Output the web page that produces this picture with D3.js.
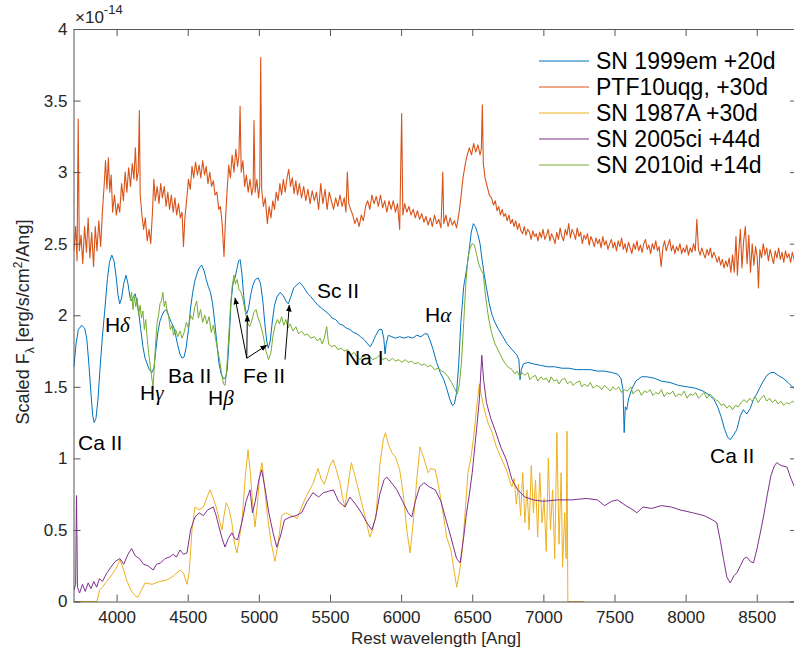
<!doctype html>
<html>
<head>
  <meta charset="UTF-8">
  <title>spectra</title>
  <style type="text/css">
    body { margin: 0; background: #fff; }
    text { font-family: "Liberation Sans", Arial, sans-serif; }
  </style>
  <script src="https://cdnjs.cloudflare.com/ajax/libs/d3/7.8.5/d3.min.js"></script>
</head>
<body>
<div id="chart"></div>
<script>

// [wavelength (Ang), scaled flux (1e-14)]
var sn1999em = [[3700,1.64],[3715,1.8],[3731,1.9],[3754,1.93],[3775,1.91],[3790,1.84],[3805,1.66],[3820,1.45],[3832,1.3],[3842,1.25],[3855,1.28],[3868,1.4],[3883,1.62],[3900,1.85],[3918,2.05],[3935,2.25],[3950,2.37],[3966,2.42],[3982,2.38],[3998,2.26],[4010,2.14],[4022,2.08],[4035,2.12],[4050,2.22],[4066,2.28],[4080,2.22],[4095,2.12],[4106,2.1],[4118,2.13],[4130,2.15],[4142,2.1],[4155,2.02],[4170,1.9],[4185,1.78],[4200,1.7],[4215,1.66],[4230,1.62],[4247,1.6],[4262,1.63],[4275,1.75],[4290,1.88],[4305,1.96],[4320,2.0],[4335,2.03],[4352,2.04],[4368,1.99],[4385,1.95],[4400,1.92],[4415,1.86],[4430,1.79],[4445,1.73],[4460,1.7],[4475,1.71],[4490,1.78],[4505,1.9],[4520,2.05],[4535,2.16],[4550,2.24],[4565,2.29],[4580,2.33],[4598,2.35],[4615,2.31],[4630,2.25],[4645,2.2],[4660,2.16],[4675,2.08],[4690,1.95],[4705,1.8],[4720,1.66],[4735,1.59],[4750,1.56],[4765,1.56],[4778,1.62],[4792,1.85],[4805,2.1],[4818,2.22],[4832,2.26],[4845,2.32],[4858,2.38],[4868,2.39],[4880,2.3],[4893,2.14],[4905,2.04],[4915,2.01],[4928,2.05],[4942,2.14],[4958,2.21],[4975,2.25],[4996,2.26],[5012,2.22],[5028,2.1],[5042,1.94],[5055,1.82],[5066,1.77],[5080,1.82],[5095,1.96],[5110,2.07],[5128,2.13],[5149,2.16],[5170,2.14],[5190,2.1],[5207,2.08],[5225,2.13],[5245,2.19],[5265,2.21],[5285,2.23],[5305,2.21],[5325,2.18],[5345,2.15],[5365,2.13],[5390,2.1],[5415,2.07],[5440,2.05],[5465,2.03],[5490,2.01],[5515,1.98],[5540,1.97],[5565,1.94],[5590,1.93],[5615,1.91],[5640,1.9],[5665,1.88],[5690,1.87],[5715,1.85],[5740,1.83],[5765,1.8],[5782,1.78],[5800,1.81],[5822,1.86],[5845,1.9],[5865,1.9],[5878,1.84],[5887,1.73],[5895,1.8],[5910,1.86],[5935,1.85],[5960,1.84],[5990,1.85],[6020,1.84],[6050,1.85],[6080,1.84],[6110,1.86],[6140,1.85],[6165,1.87],[6185,1.87],[6205,1.82],[6225,1.76],[6250,1.67],[6275,1.6],[6300,1.55],[6320,1.49],[6340,1.42],[6360,1.37],[6375,1.38],[6390,1.46],[6405,1.66],[6420,1.95],[6440,2.2],[6460,2.32],[6478,2.45],[6493,2.58],[6508,2.64],[6522,2.62],[6538,2.57],[6555,2.5],[6570,2.38],[6585,2.28],[6602,2.18],[6620,2.08],[6640,2.0],[6660,1.95],[6680,1.91],[6710,1.86],[6745,1.8],[6780,1.76],[6815,1.72],[6828,1.69],[6836,1.55],[6845,1.62],[6860,1.66],[6890,1.67],[6930,1.66],[6980,1.65],[7030,1.64],[7080,1.64],[7130,1.63],[7180,1.63],[7230,1.62],[7280,1.62],[7330,1.62],[7380,1.61],[7430,1.61],[7480,1.6],[7520,1.59],[7545,1.56],[7560,1.48],[7568,1.18],[7576,1.36],[7586,1.34],[7600,1.42],[7620,1.48],[7650,1.54],[7690,1.57],[7730,1.57],[7780,1.56],[7830,1.54],[7890,1.53],[7950,1.51],[8010,1.5],[8070,1.49],[8123,1.47],[8170,1.44],[8200,1.41],[8225,1.36],[8250,1.29],[8275,1.2],[8295,1.15],[8313,1.13],[8335,1.16],[8360,1.2],[8385,1.3],[8406,1.34],[8430,1.31],[8455,1.35],[8480,1.42],[8500,1.45],[8535,1.52],[8571,1.58],[8600,1.6],[8622,1.6],[8650,1.58],[8685,1.56],[8720,1.53],[8750,1.5],[8783,1.47]];

var ptf10uqg = [[3700,2.45],[3712,2.62],[3722,2.38],[3730,3.37],[3738,2.45],[3750,2.56],[3762,2.36],[3775,2.62],[3788,2.44],[3800,2.68],[3812,2.4],[3825,2.58],[3838,2.34],[3850,2.62],[3862,2.45],[3875,2.66],[3888,2.48],[3900,2.72],[3912,2.9],[3922,3.08],[3932,2.88],[3942,3.1],[3952,2.86],[3962,2.98],[3972,2.72],[3985,2.84],[3998,2.7],[4010,2.78],[4022,2.72],[4035,2.92],[4048,2.8],[4060,3.0],[4072,2.86],[4085,3.03],[4098,2.9],[4110,3.06],[4122,2.95],[4132,3.17],[4142,2.94],[4152,3.0],[4160,3.43],[4166,2.84],[4178,2.7],[4190,2.6],[4202,2.68],[4215,2.52],[4228,2.6],[4240,2.5],[4252,2.72],[4262,2.95],[4272,2.8],[4285,2.9],[4298,2.78],[4310,2.92],[4322,2.82],[4335,2.9],[4348,2.76],[4360,2.86],[4372,2.74],[4385,2.84],[4398,2.72],[4410,2.82],[4422,2.7],[4435,2.78],[4448,2.68],[4460,2.72],[4470,2.48],[4480,2.68],[4492,2.8],[4505,2.95],[4518,2.88],[4530,3.04],[4542,2.96],[4555,3.07],[4568,2.98],[4580,3.05],[4592,2.96],[4605,3.08],[4618,2.98],[4630,3.04],[4642,2.92],[4655,3.0],[4668,2.9],[4680,2.94],[4692,2.84],[4705,2.86],[4718,2.74],[4730,2.76],[4742,2.64],[4755,2.41],[4765,2.66],[4775,2.84],[4788,3.05],[4800,2.96],[4812,3.12],[4825,3.0],[4838,3.16],[4850,3.04],[4860,3.12],[4868,3.46],[4876,3.0],[4888,3.08],[4900,2.9],[4912,2.98],[4925,2.86],[4938,2.95],[4950,2.84],[4960,2.9],[4966,3.36],[4974,2.86],[4986,2.95],[4998,2.82],[5006,2.9],[5013,3.8],[5020,2.88],[5032,2.76],[5045,2.82],[5060,2.64],[5072,2.76],[5085,2.68],[5098,2.8],[5110,2.74],[5122,2.86],[5135,2.8],[5148,2.92],[5160,2.84],[5172,2.95],[5185,2.86],[5198,2.96],[5210,3.02],[5222,2.9],[5235,2.96],[5248,2.85],[5260,2.94],[5272,2.84],[5285,2.92],[5300,2.82],[5315,2.9],[5330,2.8],[5345,2.88],[5360,2.78],[5375,2.87],[5390,2.8],[5405,2.86],[5420,2.74],[5435,2.92],[5450,2.78],[5465,2.88],[5480,2.74],[5495,2.86],[5510,2.8],[5525,2.74],[5540,2.82],[5555,2.76],[5570,2.84],[5585,2.76],[5600,2.82],[5612,2.72],[5622,3.0],[5632,2.78],[5645,2.74],[5660,2.7],[5675,2.64],[5690,2.68],[5705,2.62],[5720,2.7],[5735,2.66],[5750,2.76],[5765,2.8],[5780,2.74],[5795,2.84],[5810,2.78],[5825,2.83],[5840,2.76],[5855,2.84],[5870,2.75],[5885,2.8],[5900,2.72],[5915,2.8],[5930,2.74],[5945,2.8],[5960,2.72],[5975,2.78],[5990,2.6],[6004,3.41],[6012,2.7],[6025,2.78],[6040,2.72],[6055,2.76],[6070,2.7],[6085,2.74],[6100,2.68],[6115,2.73],[6130,2.67],[6145,2.71],[6160,2.65],[6175,2.69],[6190,2.63],[6205,2.68],[6220,2.62],[6235,2.7],[6250,2.64],[6265,2.67],[6280,2.61],[6293,3.0],[6300,2.64],[6315,2.7],[6330,2.62],[6345,2.68],[6360,2.63],[6375,2.66],[6390,2.61],[6405,2.7],[6420,2.82],[6435,2.96],[6450,3.05],[6465,3.12],[6480,3.17],[6495,3.12],[6510,3.2],[6525,3.14],[6540,3.19],[6555,3.12],[6564,3.16],[6571,3.47],[6578,3.06],[6590,2.96],[6605,2.9],[6620,2.84],[6635,2.82],[6650,2.77],[6662,2.8],[6674,2.73],[6686,2.76],[6698,2.7],[6710,2.74],[6722,2.69],[6734,2.71],[6746,2.66],[6758,2.7],[6770,2.64],[6782,2.67],[6794,2.62],[6806,2.66],[6818,2.6],[6830,2.64],[6842,2.59],[6854,2.57],[6866,2.62],[6878,2.56],[6890,2.6],[6902,2.58],[6914,2.53],[6926,2.59],[6938,2.55],[6950,2.57],[6962,2.52],[6974,2.58],[6986,2.54],[6998,2.6],[7010,2.53],[7022,2.56],[7034,2.6],[7046,2.52],[7058,2.57],[7070,2.54],[7082,2.5],[7094,2.58],[7106,2.53],[7118,2.61],[7130,2.55],[7142,2.52],[7154,2.6],[7166,2.56],[7178,2.64],[7190,2.54],[7202,2.6],[7214,2.57],[7226,2.53],[7238,2.61],[7250,2.55],[7262,2.58],[7274,2.5],[7286,2.56],[7298,2.53],[7310,2.57],[7322,2.49],[7334,2.55],[7346,2.52],[7358,2.48],[7370,2.54],[7382,2.5],[7394,2.53],[7406,2.47],[7418,2.55],[7430,2.49],[7442,2.52],[7454,2.46],[7466,2.5],[7478,2.53],[7490,2.47],[7502,2.51],[7514,2.45],[7526,2.52],[7538,2.48],[7550,2.54],[7562,2.46],[7574,2.5],[7586,2.44],[7598,2.51],[7610,2.47],[7622,2.43],[7634,2.5],[7646,2.46],[7658,2.52],[7670,2.45],[7682,2.49],[7694,2.44],[7706,2.5],[7718,2.53],[7730,2.46],[7742,2.49],[7754,2.43],[7766,2.5],[7778,2.46],[7790,2.52],[7802,2.45],[7814,2.48],[7828,2.34],[7840,2.47],[7852,2.52],[7864,2.45],[7876,2.49],[7888,2.53],[7900,2.45],[7912,2.49],[7924,2.43],[7936,2.48],[7948,2.45],[7960,2.5],[7972,2.43],[7984,2.47],[7996,2.44],[8008,2.49],[8020,2.42],[8032,2.47],[8044,2.44],[8056,2.5],[8068,2.45],[8079,2.67],[8090,2.46],[8102,2.42],[8114,2.47],[8126,2.43],[8138,2.4],[8150,2.46],[8162,2.42],[8174,2.47],[8186,2.4],[8198,2.44],[8210,2.41],[8222,2.37],[8234,2.41],[8246,2.35],[8258,2.39],[8270,2.33],[8282,2.38],[8294,2.34],[8306,2.4],[8318,2.3],[8330,2.42],[8342,2.3],[8354,2.55],[8364,2.28],[8374,2.45],[8385,2.6],[8396,2.33],[8408,2.52],[8420,2.62],[8432,2.36],[8444,2.56],[8456,2.3],[8468,2.5],[8480,2.35],[8492,2.48],[8504,2.4],[8512,2.19],[8522,2.46],[8534,2.4],[8546,2.5],[8558,2.42],[8570,2.47],[8582,2.38],[8594,2.46],[8606,2.41],[8618,2.36],[8630,2.45],[8642,2.4],[8654,2.47],[8666,2.39],[8678,2.44],[8690,2.37],[8702,2.45],[8714,2.4],[8726,2.43],[8738,2.37],[8750,2.44],[8762,2.39],[8783,2.41]];

var sn1987a = [[3700,0.0],[3862,0.0],[3880,0.08],[3900,0.1],[3930,0.14],[3954,0.17],[3990,0.22],[4024,0.29],[4050,0.22],[4070,0.15],[4100,0.08],[4130,0.04],[4150,0.03],[4175,0.08],[4200,0.13],[4250,0.12],[4300,0.14],[4355,0.15],[4400,0.18],[4446,0.22],[4470,0.2],[4495,0.12],[4510,0.2],[4530,0.5],[4551,0.66],[4580,0.64],[4610,0.66],[4640,0.74],[4657,0.78],[4680,0.72],[4700,0.66],[4720,0.58],[4741,0.5],[4755,0.6],[4770,0.69],[4790,0.65],[4810,0.55],[4830,0.4],[4846,0.34],[4865,0.45],[4885,0.6],[4905,0.88],[4924,1.06],[4940,0.9],[4955,0.7],[4973,0.52],[4990,0.68],[5005,0.88],[5022,0.97],[5040,0.8],[5060,0.6],[5085,0.42],[5113,0.28],[5135,0.4],[5160,0.6],[5190,0.62],[5230,0.6],[5270,0.58],[5300,0.66],[5340,0.75],[5380,0.82],[5416,0.93],[5440,0.85],[5460,0.82],[5480,0.88],[5500,0.95],[5522,0.99],[5545,0.92],[5570,0.83],[5590,0.72],[5605,0.66],[5625,0.8],[5650,0.97],[5670,0.9],[5690,0.82],[5720,0.7],[5750,0.58],[5780,0.45],[5800,0.5],[5825,0.62],[5850,0.95],[5875,1.13],[5890,1.18],[5910,1.1],[5935,1.04],[5960,1.01],[5990,0.92],[6015,0.75],[6040,0.5],[6063,0.34],[6085,0.55],[6110,0.85],[6133,1.08],[6160,1.0],[6190,0.9],[6210,0.93],[6240,0.92],[6265,0.8],[6290,0.65],[6320,0.45],[6350,0.36],[6375,0.2],[6391,0.1],[6410,0.2],[6430,0.36],[6450,0.62],[6470,0.9],[6490,1.0],[6510,1.15],[6530,1.35],[6550,1.52],[6562,1.45],[6580,1.36],[6610,1.25],[6640,1.18],[6670,1.08],[6700,1.01],[6740,0.92],[6778,0.8],[6795,0.86],[6810,0.68],[6825,0.82],[6840,0.6],[6855,0.9],[6870,0.55],[6885,0.78],[6900,0.5],[6915,0.95],[6930,0.62],[6945,0.85],[6960,0.45],[6975,0.9],[6990,0.55],[7005,0.72],[7020,0.35],[7035,1.0],[7050,0.5],[7065,0.78],[7080,0.3],[7095,1.18],[7110,0.4],[7125,0.9],[7135,0.24],[7150,0.62],[7160,0.3],[7166,1.19],[7172,0.0],[7290,0.0]];

var sn2005ci = [[3700,0.08],[3712,0.12],[3718,0.74],[3725,0.1],[3740,0.06],[3760,0.12],[3780,0.07],[3800,0.13],[3820,0.09],[3840,0.14],[3860,0.1],[3880,0.16],[3900,0.14],[3932,0.2],[3960,0.24],[3990,0.28],[4024,0.3],[4050,0.26],[4080,0.33],[4106,0.37],[4130,0.32],[4160,0.3],[4190,0.26],[4220,0.25],[4258,0.22],[4280,0.26],[4310,0.27],[4340,0.3],[4370,0.31],[4400,0.33],[4420,0.31],[4446,0.36],[4470,0.33],[4495,0.34],[4520,0.5],[4551,0.59],[4580,0.62],[4610,0.6],[4640,0.64],[4680,0.66],[4700,0.6],[4720,0.52],[4742,0.44],[4762,0.38],[4785,0.44],[4810,0.48],[4830,0.44],[4850,0.43],[4880,0.55],[4910,0.7],[4938,0.78],[4955,0.62],[4975,0.7],[5000,0.85],[5020,0.92],[5045,0.78],[5070,0.62],[5100,0.48],[5126,0.38],[5150,0.45],[5180,0.57],[5220,0.59],[5260,0.6],[5300,0.62],[5340,0.7],[5380,0.76],[5420,0.73],[5453,0.76],[5490,0.77],[5524,0.78],[5560,0.7],[5606,0.66],[5640,0.73],[5680,0.68],[5720,0.62],[5760,0.55],[5794,0.5],[5820,0.58],[5850,0.75],[5880,0.85],[5899,0.87],[5940,0.82],[5970,0.78],[6010,0.7],[6050,0.62],[6075,0.59],[6100,0.7],[6130,0.8],[6160,0.83],[6200,0.8],[6240,0.78],[6280,0.7],[6310,0.59],[6350,0.45],[6390,0.3],[6415,0.27],[6440,0.45],[6460,0.62],[6480,0.75],[6500,0.9],[6530,1.2],[6550,1.41],[6567,1.72],[6580,1.55],[6600,1.39],[6630,1.28],[6660,1.2],[6700,1.08],[6740,0.99],[6780,0.85],[6820,0.78],[6870,0.73],[6930,0.71],[7000,0.7],[7100,0.71],[7200,0.71],[7300,0.72],[7380,0.71],[7430,0.67],[7480,0.7],[7520,0.71],[7580,0.67],[7630,0.64],[7657,0.62],[7700,0.66],[7760,0.65],[7830,0.67],[7900,0.66],[7960,0.64],[8050,0.62],[8130,0.6],[8190,0.57],[8219,0.55],[8245,0.42],[8266,0.3],[8290,0.17],[8313,0.13],[8340,0.18],[8360,0.2],[8385,0.25],[8410,0.3],[8430,0.31],[8455,0.28],[8477,0.27],[8500,0.36],[8525,0.48],[8547,0.59],[8575,0.75],[8600,0.88],[8625,0.95],[8641,0.97],[8670,0.95],[8712,0.94],[8740,0.86],[8766,0.8]];

var sn2010id = [[4095,2.1],[4105,2.16],[4115,2.04],[4125,2.13],[4135,2.06],[4145,2.12],[4155,2.0],[4165,2.07],[4175,1.98],[4185,2.03],[4195,1.9],[4205,1.97],[4215,1.84],[4225,1.74],[4235,1.66],[4245,1.58],[4256,1.5],[4265,1.64],[4275,1.82],[4285,1.95],[4295,2.0],[4305,2.08],[4315,2.1],[4325,2.16],[4335,2.06],[4345,2.1],[4355,2.02],[4365,2.0],[4378,1.9],[4390,1.93],[4400,1.86],[4415,1.9],[4430,1.85],[4445,1.89],[4460,1.84],[4475,1.88],[4490,1.95],[4505,1.91],[4520,2.0],[4535,1.97],[4550,2.06],[4563,2.1],[4575,1.98],[4590,2.04],[4605,1.95],[4620,2.0],[4635,1.94],[4650,1.99],[4665,1.88],[4680,1.93],[4695,1.84],[4710,1.76],[4725,1.68],[4740,1.58],[4752,1.52],[4762,1.51],[4772,1.6],[4785,1.8],[4800,2.05],[4812,2.2],[4825,2.28],[4835,2.22],[4848,2.25],[4860,2.18],[4875,2.16],[4890,2.1],[4905,2.02],[4920,1.95],[4935,1.92],[4950,1.96],[4965,2.02],[4980,2.04],[4995,1.98],[5010,1.94],[5030,1.86],[5050,1.75],[5068,1.69],[5085,1.74],[5100,1.86],[5115,1.93],[5130,1.97],[5145,1.94],[5160,1.99],[5175,1.93],[5190,1.97],[5205,1.91],[5220,1.94],[5240,1.89],[5260,1.92],[5280,1.87],[5300,1.89],[5322,1.86],[5340,1.87],[5365,1.84],[5390,1.85],[5412,1.82],[5430,1.84],[5445,1.8],[5460,1.84],[5477,1.92],[5490,1.8],[5510,1.78],[5535,1.79],[5555,1.76],[5580,1.77],[5600,1.75],[5625,1.76],[5645,1.72],[5670,1.74],[5690,1.71],[5712,1.69],[5735,1.72],[5755,1.7],[5780,1.71],[5800,1.69],[5825,1.7],[5848,1.72],[5870,1.69],[5895,1.7],[5915,1.68],[5940,1.7],[5960,1.68],[5985,1.69],[6005,1.67],[6030,1.69],[6050,1.67],[6075,1.68],[6095,1.66],[6120,1.67],[6140,1.65],[6165,1.66],[6185,1.64],[6210,1.65],[6235,1.62],[6260,1.63],[6285,1.61],[6305,1.6],[6330,1.57],[6355,1.53],[6375,1.49],[6395,1.45],[6410,1.52],[6425,1.68],[6440,1.95],[6455,2.22],[6470,2.4],[6485,2.47],[6500,2.5],[6515,2.49],[6530,2.43],[6545,2.36],[6560,2.32],[6577,2.29],[6595,2.12],[6615,1.98],[6635,1.88],[6660,1.8],[6690,1.74],[6720,1.68],[6750,1.64],[6780,1.62],[6800,1.59],[6815,1.61],[6835,1.57],[6850,1.6],[6870,1.58],[6890,1.6],[6905,1.55],[6925,1.57],[6945,1.58],[6960,1.54],[6985,1.57],[7000,1.55],[7020,1.56],[7040,1.53],[7055,1.57],[7075,1.54],[7095,1.55],[7110,1.52],[7130,1.55],[7150,1.56],[7170,1.52],[7190,1.54],[7210,1.51],[7230,1.53],[7255,1.54],[7270,1.5],[7290,1.52],[7310,1.5],[7330,1.53],[7350,1.49],[7370,1.51],[7395,1.5],[7410,1.48],[7430,1.51],[7450,1.49],[7470,1.47],[7490,1.5],[7510,1.48],[7530,1.5],[7550,1.46],[7570,1.48],[7590,1.47],[7615,1.5],[7630,1.45],[7650,1.47],[7670,1.48],[7690,1.44],[7710,1.47],[7730,1.46],[7750,1.48],[7770,1.44],[7790,1.46],[7810,1.45],[7830,1.48],[7850,1.43],[7870,1.46],[7890,1.45],[7910,1.47],[7930,1.43],[7950,1.45],[7970,1.44],[7990,1.47],[8010,1.42],[8030,1.45],[8050,1.44],[8070,1.46],[8090,1.42],[8110,1.44],[8130,1.46],[8150,1.42],[8170,1.45],[8190,1.43],[8210,1.41],[8230,1.4],[8250,1.37],[8270,1.38],[8290,1.35],[8310,1.37],[8330,1.34],[8350,1.37],[8370,1.36],[8390,1.39],[8410,1.41],[8430,1.39],[8450,1.42],[8470,1.4],[8490,1.43],[8510,1.39],[8530,1.42],[8550,1.44],[8570,1.4],[8590,1.42],[8610,1.39],[8630,1.41],[8650,1.38],[8670,1.4],[8690,1.37],[8710,1.39],[8730,1.38],[8750,1.4],[8783,1.38]];

var seriesNames = ["SN 1999em +20d", "PTF10uqg, +30d", "SN 1987A +30d", "SN 2005ci +44d", "SN 2010id +14d"];
var seriesColors = ["#0072BD", "#D95319", "#EDB120", "#7E2F8E", "#77AC30"];
var seriesData = [sn1999em, ptf10uqg, sn1987a, sn2005ci, sn2010id];

var xTicks = [4000, 4500, 5000, 5500, 6000, 6500, 7000, 7500, 8000, 8500];
var yTicks = [0, 0.5, 1, 1.5, 2, 2.5, 3, 3.5, 4];

// [text, greek letter, wavelength, flux] - position of the text baseline start
var lineLabels = [
  ["Ca II", "", 3729, 1.06],
  ["H", "\u03b4", 3918, 1.88],
  ["H", "\u03b3", 4165, 1.41],
  ["Ba II", "", 4362, 1.53],
  ["H", "\u03b2", 4643, 1.37],
  ["Fe II", "", 4889, 1.53],
  ["Sc II", "", 5409, 2.12],
  ["Na I", "", 5606, 1.65],
  ["H", "\u03b1", 6168, 1.95],
  ["Ca II", "", 8172, 0.97]
];

// [from wavelength, from flux, to wavelength, to flux]
var feArrows = [
  [4915, 1.70, 4833, 2.12],
  [4915, 1.70, 4919, 2.00],
  [4915, 1.70, 5055, 1.79],
  [5184, 1.69, 5214, 2.07]
];

function draw() {
  var w = 794, h = 653,
    plotL = 73.5, plotR = 797, plotT = 29, plotB = 601.5;

  var x = d3.scaleLinear().domain([3697, 8783]).range([plotL, plotR]);
  var y = d3.scaleLinear().domain([0, 4]).range([plotB, plotT]);

  var svg = d3.select("#chart").append("svg")
    .attr("width", w)
    .attr("height", h)
    .style("display", "block");

  var defs = svg.append("defs");
  defs.append("clipPath").attr("id", "plotclip")
    .append("rect")
    .attr("x", plotL).attr("y", plotT - 1)
    .attr("width", plotR - plotL).attr("height", plotB - plotT + 2);

  defs.append("marker")
    .attr("id", "arrowhead")
    .attr("viewBox", "0 0 10 10")
    .attr("refX", 9).attr("refY", 5)
    .attr("markerWidth", 7).attr("markerHeight", 7)
    .attr("markerUnits", "userSpaceOnUse")
    .attr("orient", "auto")
    .append("path")
    .attr("d", "M0,1 L10,5 L0,9 Z")
    .attr("fill", "#000");

  var line = d3.line()
    .x(function(d) { return x(d[0]); })
    .y(function(d) { return y(d[1]); });

  var plot = svg.append("g").attr("clip-path", "url(#plotclip)");

  seriesData.forEach(function(s, i) {
    plot.append("path")
      .attr("d", line(s))
      .attr("fill", "none")
      .attr("stroke", seriesColors[i])
      .attr("stroke-width", i == 1 ? 1.1 : 1)
      .attr("stroke-linejoin", "round");
  });

  // axes (box with inward ticks)
  var axisColor = "#555";
  var labelColor = "#262626";

  var gx = svg.append("g").attr("transform", "translate(0," + plotB + ")")
    .call(d3.axisBottom(x).tickValues(xTicks).tickSize(-7).tickSizeOuter(0).tickPadding(9).tickFormat(d3.format("d")));
  var gxt = svg.append("g").attr("transform", "translate(0," + plotT + ")")
    .call(d3.axisTop(x).tickValues(xTicks).tickSize(-7).tickSizeOuter(0).tickFormat(""));
  var gy = svg.append("g").attr("transform", "translate(" + plotL + ",0)")
    .call(d3.axisLeft(y).tickValues(yTicks).tickSize(-7).tickSizeOuter(0).tickPadding(6).tickFormat(function(d) { return String(d); }));
  var gyr = svg.append("g").attr("transform", "translate(" + plotR + ",0)")
    .call(d3.axisRight(y).tickValues(yTicks).tickSize(-7).tickSizeOuter(0).tickFormat(""));

  [gx, gxt, gy, gyr].forEach(function(g) {
    g.select(".domain").attr("stroke", axisColor);
    g.selectAll(".tick line").attr("stroke", axisColor);
    g.selectAll(".tick text")
      .attr("fill", labelColor)
      .style("font-size", "17px")
      .style("font-family", "'Liberation Sans', Arial, sans-serif");
  });

  // exponent label
  var expo = svg.append("text")
    .attr("x", 75).attr("y", 23)
    .attr("fill", labelColor)
    .style("font-size", "17px");
  expo.append("tspan").text("\u00d710");
  expo.append("tspan").attr("dy", -9).style("font-size", "13px").text("-14");

  // axis titles
  svg.append("text")
    .attr("x", 436)
    .attr("y", 644)
    .attr("text-anchor", "middle")
    .attr("fill", labelColor)
    .style("font-size", "17px")
    .text("Rest wavelength [Ang]");

  var ylab = svg.append("text")
    .attr("transform", "translate(29,322) rotate(-90)")
    .attr("text-anchor", "middle")
    .attr("fill", labelColor)
    .style("font-size", "18px");
  ylab.append("tspan").text("Scaled F");
  ylab.append("tspan").attr("dy", 5).style("font-size", "12px").text("\u03bb");
  ylab.append("tspan").attr("dy", -5).text(" [erg/s/cm");
  ylab.append("tspan").attr("dy", -7).style("font-size", "12px").text("2");
  ylab.append("tspan").attr("dy", 7).text("/Ang]");

  // line identifications
  lineLabels.forEach(function(l) {
    var t = svg.append("text")
      .attr("x", x(l[2]))
      .attr("y", y(l[3]))
      .attr("fill", "#000")
      .style("font-size", "21px");
    t.append("tspan").text(l[0]);
    if (l[1]) {
      t.append("tspan")
        .style("font-family", "'Liberation Serif', 'DejaVu Serif', serif")
        .style("font-style", "italic")
        .text(l[1]);
    }
  });

  svg.selectAll(".fe-arrow")
    .data(feArrows)
    .enter().append("line")
    .attr("class", "fe-arrow")
    .attr("x1", function(d) { return x(d[0]); })
    .attr("y1", function(d) { return y(d[1]); })
    .attr("x2", function(d) { return x(d[2]); })
    .attr("y2", function(d) { return y(d[3]); })
    .attr("stroke", "#000")
    .attr("stroke-width", 1)
    .attr("marker-end", "url(#arrowhead)");

  // legend, no box
  var legend = svg.append("g").attr("transform", "translate(539,61)");
  seriesNames.forEach(function(name, i) {
    var row = legend.append("g").attr("transform", "translate(0," + (i * 26) + ")");
    row.append("line")
      .attr("x1", 0).attr("x2", 50)
      .attr("y1", 0).attr("y2", 0)
      .attr("stroke", seriesColors[i])
      .attr("stroke-width", 1);
    row.append("text")
      .attr("x", 57)
      .attr("y", 0)
      .attr("dy", "0.35em")
      .attr("fill", "#000")
      .style("font-size", "23px")
      .text(name);
  });
}

draw();

</script>
</body>
</html>
